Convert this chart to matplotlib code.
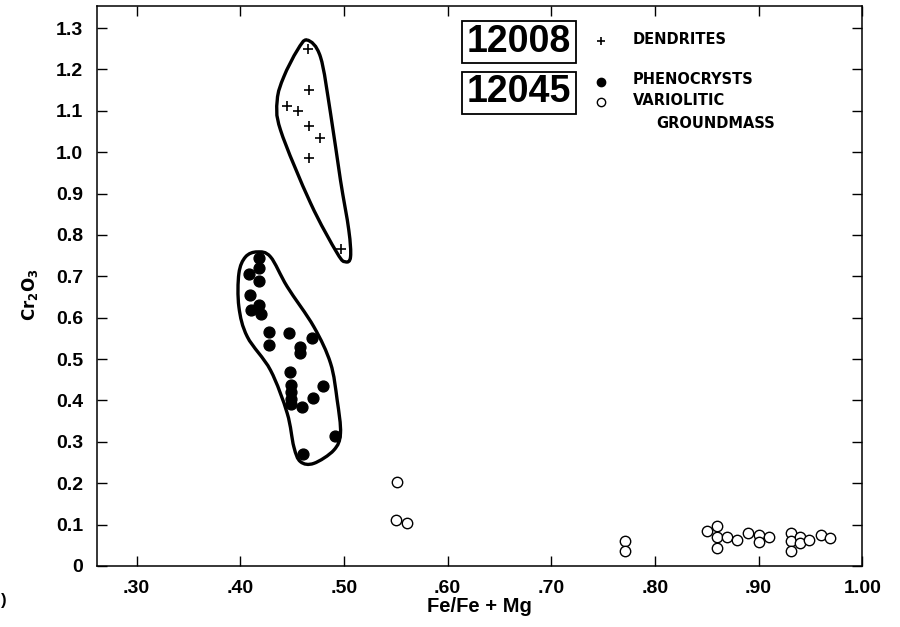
import numpy as np
import matplotlib
matplotlib.use("Agg")
import matplotlib.pyplot as plt
from matplotlib.path import Path
from matplotlib.patches import PathPatch, Rectangle

NARROW = ["Liberation Sans", "DejaVu Sans"]
WIDE = ["DejaVu Sans"]
plt.rcParams["font.family"] = NARROW
plt.rcParams["font.weight"] = "bold"
plt.rcParams["mathtext.default"] = "regular"

# sample 12008: dendrites (+)
dend_x = [0.465, 0.466, 0.445, 0.456, 0.466, 0.477, 0.466, 0.497]
dend_y = [1.250, 1.150, 1.111, 1.100, 1.063, 1.035, 0.987, 0.766]

# sample 12045: phenocrysts (filled circles)
phen_x = [0.418, 0.418, 0.408, 0.418, 0.409, 0.410, 0.418, 0.420, 0.428, 0.428,
          0.447, 0.469, 0.458, 0.458, 0.448, 0.449, 0.449, 0.449, 0.449, 0.460,
          0.470, 0.480, 0.491, 0.461]
phen_y = [0.745, 0.720, 0.705, 0.689, 0.655, 0.618, 0.630, 0.610, 0.565, 0.535,
          0.562, 0.550, 0.530, 0.514, 0.468, 0.438, 0.421, 0.404, 0.392, 0.385,
          0.405, 0.435, 0.315, 0.270]

# sample 12045: variolitic groundmass (open circles)
gm_x = [0.551, 0.550, 0.561, 0.771, 0.771, 0.850, 0.860, 0.860, 0.860, 0.870,
        0.879, 0.890, 0.900, 0.900, 0.910, 0.931, 0.931, 0.931, 0.940, 0.940,
        0.949, 0.960, 0.969]
gm_y = [0.203, 0.111, 0.105, 0.061, 0.037, 0.085, 0.097, 0.069, 0.043, 0.069,
        0.064, 0.079, 0.075, 0.059, 0.069, 0.079, 0.061, 0.037, 0.071, 0.055,
        0.063, 0.075, 0.067]

# hand-drawn envelopes around the two clusters
dend_env_x = [0.4646, 0.4774, 0.4871, 0.4967, 0.5047, 0.5064, 0.5015, 0.4935,
              0.4678, 0.4389, 0.4357, 0.4420, 0.4550]
dend_env_y = [1.271, 1.230, 1.094, 0.932, 0.812, 0.747, 0.735, 0.756,
              0.877, 1.053, 1.126, 1.182, 1.246]
phen_env_x = [0.4164, 0.4292, 0.4453, 0.4710, 0.4871, 0.4935, 0.4967, 0.4903,
              0.4710, 0.4581, 0.4517, 0.4453, 0.4292, 0.4068, 0.3987, 0.3987, 0.4051]
phen_env_y = [0.759, 0.747, 0.675, 0.578, 0.490, 0.401, 0.321, 0.280,
              0.248, 0.252, 0.288, 0.369, 0.473, 0.554, 0.626, 0.707, 0.747]

x_ticks = [0.30, 0.40, 0.50, 0.60, 0.70, 0.80, 0.90, 1.00]
x_labels = [".30", ".40", ".50", ".60", ".70", ".80", ".90", "1.00"]
y_ticks = [0, 0.1, 0.2, 0.3, 0.4, 0.5, 0.6, 0.7, 0.8, 0.9, 1.0, 1.1, 1.2, 1.3]
y_labels = ["0", "0.1", "0.2", "0.3", "0.4", "0.5", "0.6", "0.7", "0.8", "0.9",
            "1.0", "1.1", "1.2", "1.3"]


def closed_curve(xs, ys):
    """Smooth closed outline through the given points (Catmull-Rom as Bezier)."""
    p = np.column_stack([xs, ys])
    n = len(p)
    verts, codes = [p[0]], [Path.MOVETO]
    for i in range(n):
        p0, p1, p2, p3 = p[i - 1], p[i], p[(i + 1) % n], p[(i + 2) % n]
        verts += [p1 + (p2 - p0) / 6, p2 - (p3 - p1) / 6, p2]
        codes += [Path.CURVE4] * 3
    return Path(verts, codes)


fig = plt.figure(figsize=(9, 6.27), dpi=100)
ax = fig.add_axes([0.108, 0.0973, 0.85, 0.893])

for ex, ey in [(dend_env_x, dend_env_y), (phen_env_x, phen_env_y)]:
    ax.add_patch(PathPatch(closed_curve(ex, ey), fill=False, ec="black",
                           lw=2.4, joinstyle="round"))

ax.plot(dend_x, dend_y, "+", color="black", ms=7, mew=1.2)
ax.plot(phen_x, phen_y, "o", color="black", ms=7.8, mec="black")
ax.plot(gm_x, gm_y, "o", mfc="white", mec="black", ms=7.5, mew=1.0)

ax.set_xlim(0.262, 1.0)
ax.set_ylim(0, 1.353)
ax.set_xticks(x_ticks)
ax.set_xticklabels(x_labels)
ax.set_yticks(y_ticks)
ax.set_yticklabels(y_labels)
ax.tick_params(direction="in", length=7, width=1, top=True, right=True,
               labelsize=14, pad=10)
for s in ax.spines.values():
    s.set_linewidth(1.1)

ax.set_xlabel("Fe/Fe + Mg", fontsize=14.5, fontweight="bold")
ax.xaxis.set_label_coords(0.5, -0.056)
ax.set_ylabel(r"Cr$_2$O$_3$", fontsize=12, fontweight="bold", family=WIDE,
              ha="center", va="center")
ax.yaxis.set_label_coords(-0.088, 0.484)

# key in the upper right
for y0, yc, name in [(0.899, 0.936, "12008"), (0.808, 0.846, "12045")]:
    ax.add_patch(Rectangle((0.477, y0), 0.149, 0.075, transform=ax.transAxes,
                           fill=False, lw=1.3, ec="black"))
    ax.text(0.5515, yc, name, transform=ax.transAxes, ha="center", va="center",
            fontsize=27, fontweight="bold")
ax.plot([0.658], [0.9375], "+", transform=ax.transAxes, color="black", ms=6, mew=1.2)
ax.plot([0.658], [0.865], "o", transform=ax.transAxes, color="black", ms=6)
ax.plot([0.658], [0.829], "o", transform=ax.transAxes, mfc="white", mec="black",
        ms=6, mew=1.0)
key = dict(transform=ax.transAxes, ha="left", va="center", fontsize=10.5,
           fontweight="bold", family=WIDE)
ax.text(0.700, 0.9405, "DENDRITES", **key)
ax.text(0.700, 0.868, "PHENOCRYSTS", **key)
ax.text(0.700, 0.832, "VARIOLITIC", **key)
ax.text(0.731, 0.7905, "GROUNDMASS", **key)

# edge of a clipped label at the far left
fig.text(0.001, 0.043, ")", fontsize=12, fontweight="bold", ha="left", va="center")

fig.savefig("out.png", dpi=100)
